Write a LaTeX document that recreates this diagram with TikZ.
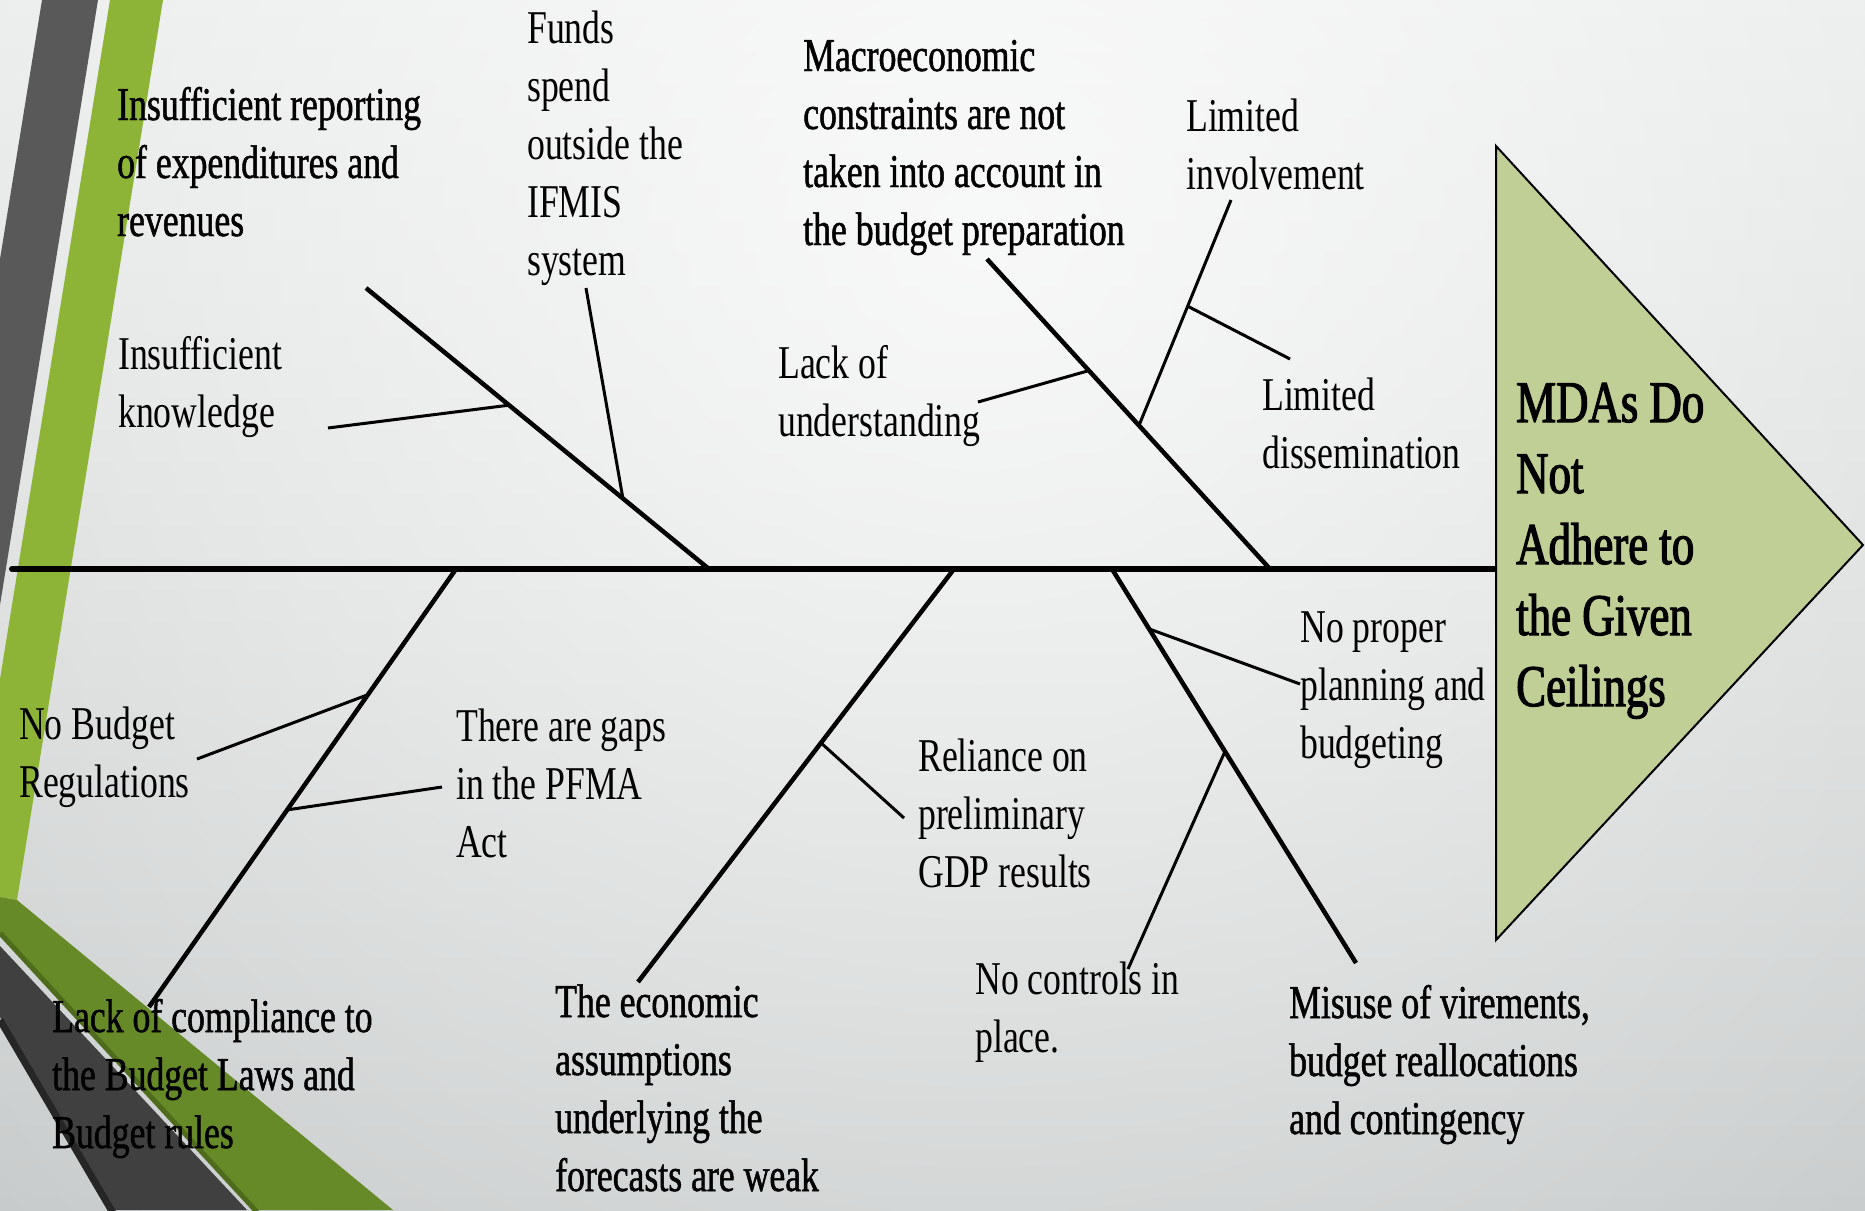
\documentclass[tikz,border=0pt]{standalone}
\usepackage{fontspec}
\setmainfont{Liberation Serif}[FakeStretch=0.76]
\newfontfamily\medfont{Liberation Serif}[FakeStretch=0.76,FakeBold=1]
\newfontfamily\headfont{Liberation Serif}[FakeStretch=0.76,FakeBold=2]
\usetikzlibrary{calc,fadings}
\definecolor{bgtop}{HTML}{E4E6E6}
\definecolor{bgbot}{HTML}{BEC2C2}
\definecolor{stripegray}{HTML}{595959}
\definecolor{stripegreen}{HTML}{8DB437}
\definecolor{bandolive}{HTML}{678A28}
\definecolor{bandolivedark}{HTML}{4F6C1C}
\definecolor{banddark}{HTML}{404040}
\definecolor{banddarker}{HTML}{262626}
\definecolor{headfill}{HTML}{C0CF96}
\tikzfading[name=glow, inner color=transparent!0, outer color=transparent!100]
\newcommand\ml[1]{\begin{tabular}[t]{@{}l@{}}#1\end{tabular}}
\begin{document}
\begin{tikzpicture}[x=1pt,y=-1pt,
  lbl/.style={anchor=base west, inner sep=0pt, font=\fontsize{47}{58}\selectfont},
  mlbl/.style={anchor=base west, inner sep=0pt, font=\medfont\fontsize{47}{58}\selectfont},
  headlbl/.style={anchor=base west, inner sep=0pt, font=\headfont\fontsize{59}{71}\selectfont},
  spine/.style={line width=6pt, line cap=round},
  bone/.style={line width=4.5pt},
  twig/.style={line width=3pt}]
\useasboundingbox (0,0) rectangle (1865,1210);
% background
\begin{scope}
\clip (0,0) rectangle (1865,1210);
\shade[top color=bgtop, bottom color=bgbot] (0,0) rectangle (1865,1210);
\fill[white, path fading=glow, fill opacity=0.8] (980,240) circle (1700pt);
% decorative stripes
\fill[stripegray] (42,0) -- (98,0) -- (0,605) -- (0,259) -- cycle;
\fill[stripegreen] (110,0) -- (163,0) -- (17,900) -- (0,897) -- (0,679) -- cycle;
\fill[bandolive] (0,897) -- (17,900) -- (393,1210) -- (258,1210) -- (0,935) -- cycle;
\draw[bandolivedark, line width=5pt] (0,933) -- (257,1212);
\fill[banddark] (0,946) -- (247,1210) -- (110,1210) -- (0,1017) -- cycle;
\draw[banddarker, line width=7pt] (0,1020) -- (113,1213);
\end{scope}
% coordinates
\coordinate (S0) at (12,569);
\coordinate (S1) at (1496,569);
\coordinate (T1) at (1496,146);
\coordinate (T2) at (1863,545);
\coordinate (T3) at (1496,940);
\coordinate (ULa) at (366,288);  \coordinate (ULb) at (709,569);
\coordinate (URa) at (987,259);  \coordinate (URb) at (1270,569);
\coordinate (LLa) at (456,569);  \coordinate (LLb) at (149,1007);
\coordinate (LMa) at (954,569);  \coordinate (LMb) at (638,982);
\coordinate (LRa) at (1112,569); \coordinate (LRb) at (1356,963);
\coordinate (cKnow) at (328,428);
\coordinate (cFunds) at (586,288);
\coordinate (cLack) at (978,402);
\coordinate (cInv) at (1231,200);
\coordinate (cDis) at (1290,359);
\coordinate (cReg) at (197,759);
\coordinate (cGaps) at (442,787);
\coordinate (cRel) at (904,818);
\coordinate (cPlan) at (1300,684);
\coordinate (cCtrl) at (1128,969);
\coordinate (jKnow) at ($(ULa)!0.417!(ULb)$);
\coordinate (jFunds) at ($(ULa)!0.749!(ULb)$);
\coordinate (jLack) at ($(URa)!0.36!(URb)$);
\coordinate (jInv) at ($(URa)!0.537!(URb)$);
\coordinate (jDis) at ($(cInv)!0.471!(jInv)$);
\coordinate (jReg) at ($(LLa)!0.287!(LLb)$);
\coordinate (jGaps) at ($(LLa)!0.55!(LLb)$);
\coordinate (jRel) at ($(LMa)!0.421!(LMb)$);
\coordinate (jPlan) at ($(LRa)!0.152!(LRb)$);
\coordinate (jCtrl) at ($(LRa)!0.463!(LRb)$);
% spine and bones
\draw[spine] (S0) -- (S1);
\draw[bone] (ULa) -- (ULb);
\draw[bone] (URa) -- (URb);
\draw[bone] (LLa) -- (LLb);
\draw[bone] (LMa) -- (LMb);
\draw[bone] (LRa) -- (LRb);
\draw[twig] (cKnow) -- (jKnow);
\draw[twig] (cFunds) -- (jFunds);
\draw[twig] (cLack) -- (jLack);
\draw[twig] (cInv) -- (jInv);
\draw[twig] (cDis) -- (jDis);
\draw[twig] (cReg) -- (jReg);
\draw[twig] (cGaps) -- (jGaps);
\draw[twig] (cRel) -- (jRel);
\draw[twig] (cPlan) -- (jPlan);
\draw[twig] (cCtrl) -- (jCtrl);
% head
\draw[fill=headfill, line width=2pt, line join=miter] (T1) -- (T2) -- (T3) -- cycle;
\node[headlbl] (head) at (1516,422) {\ml{MDAs Do\\Not\\Adhere to\\the Given\\Ceilings}};
% labels
\node[mlbl] (t1) at (117,120) {\ml{Insufficient reporting\\of expenditures and\\revenues}};
\node[lbl] (t2) at (527,43) {\ml{Funds\\spend\\outside the\\IFMIS\\system}};
\node[mlbl] (t3) at (803,71) {\ml{Macroeconomic\\constraints are not\\taken into account in\\the budget preparation}};
\node[lbl] (t4) at (1186,131) {\ml{Limited\\involvement}};
\node[lbl] (t5) at (118,369) {\ml{Insufficient\\knowledge}};
\node[lbl] (t6) at (778,378) {\ml{Lack of\\understanding}};
\node[lbl] (t7) at (1262,410) {\ml{Limited\\dissemination}};
\node[lbl] (t8) at (19,739) {\ml{No Budget\\Regulations}};
\node[lbl] (t9) at (456,741) {\ml{There are gaps\\in the PFMA\\Act}};
\node[lbl] (t10) at (918,771) {\ml{Reliance on\\preliminary\\GDP results}};
\node[lbl] (t11) at (1300,642) {\ml{No proper\\planning and\\budgeting}};
\node[lbl] (t12) at (975,994) {\ml{No controls in\\place.}};
\node[mlbl] (t13) at (1289,1018) {\ml{Misuse of virements,\\budget reallocations\\and contingency}};
\node[mlbl] (t14) at (555,1017) {\ml{The economic\\assumptions\\underlying the\\forecasts are weak}};
\node[mlbl] (t15) at (52,1032) {\ml{Lack of compliance to\\the Budget Laws and\\Budget rules}};
\end{tikzpicture}
\end{document}
